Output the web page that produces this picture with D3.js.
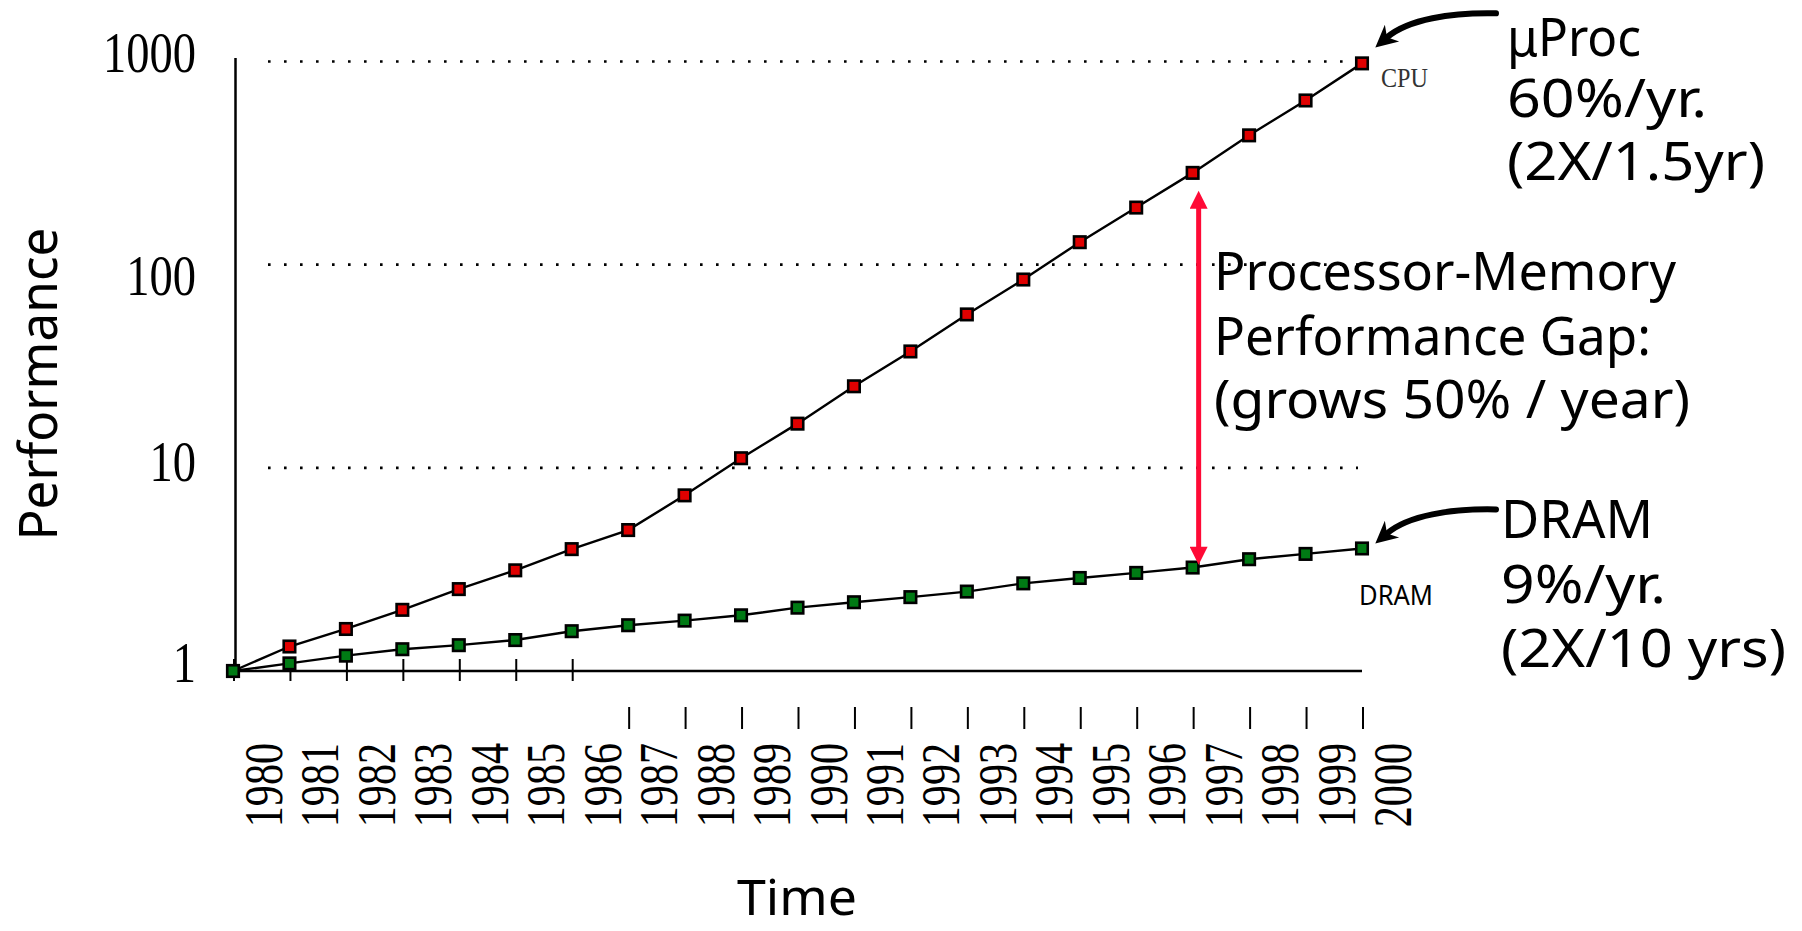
<!DOCTYPE html>
<html>
<head>
<meta charset="utf-8">
<script src="https://cdn.jsdelivr.net/npm/d3@7"></script>
<style>
  html, body { margin: 0; padding: 0; background: #fff; }
  svg { display: block; }
</style>
</head>
<body>
<svg id="chart" width="1802" height="931"></svg>
<script>
// ---- data ----
const years = [1980, 1981, 1982, 1983, 1984, 1985, 1986, 1987, 1988, 1989, 1990,
               1991, 1992, 1993, 1994, 1995, 1996, 1997, 1998, 1999, 2000];
const cpuPerf = [1, 1.32, 1.61, 2.00, 2.53, 3.13, 3.98, 4.94, 7.32, 11.15, 16.5,
                 25.2, 37.4, 56.9, 84.5, 129, 191, 283, 433, 643, 979];
const dramPerf = [1, 1.09, 1.19, 1.28, 1.34, 1.42, 1.57, 1.68, 1.77, 1.88, 2.05,
                  2.18, 2.31, 2.46, 2.70, 2.87, 3.04, 3.23, 3.55, 3.77, 4.01];
const yTicks = [1, 10, 100, 1000];
const gridTicks = [10, 100, 1000];
const yTickLabels = ["1", "10", "100", "1000"];
const cpuNote = ["\u03bcProc", "60%/yr.", "(2X/1.5yr)"];
const gapNote = ["Processor-Memory", "Performance Gap:", "(grows 50% / year)"];
const dramNote = ["DRAM", "9%/yr.", "(2X/10 yrs)"];

// ---- setup ----
const svg = d3.select("#chart");
const SERIF = "'Liberation Serif', 'Times New Roman', serif";
const COMIC = "'Comic Sans MS', 'Noto Sans', 'DejaVu Sans', sans-serif";

const x = d3.scaleLinear().domain([1980, 2000]).range([233, 1362]);
const y = d3.scaleLog().domain([1, 1000]).range([671, 61.5]);

function condense(sel, k) {
  sel.each(function () {
    const len = this.getComputedTextLength();
    d3.select(this).attr("textLength", len * k).attr("lengthAdjust", "spacingAndGlyphs");
  });
}
function fit(sel, w) {
  sel.attr("textLength", w).attr("lengthAdjust", "spacingAndGlyphs");
}

// ---- gridlines (dotted) ----
svg.append("g").selectAll("line").data(gridTicks).join("line")
  .attr("x1", 268).attr("x2", 1358)
  .attr("y1", d => y(d)).attr("y2", d => y(d))
  .attr("stroke", "#000").attr("stroke-width", 2.6)
  .attr("stroke-dasharray", "2.6 13.4");

// ---- axes ----
svg.append("line").attr("x1", 235.5).attr("x2", 235.5).attr("y1", 58).attr("y2", y(1))
  .attr("stroke", "#000").attr("stroke-width", 2.5);
svg.append("line").attr("x1", 228).attr("x2", x(2000)).attr("y1", y(1)).attr("y2", y(1))
  .attr("stroke", "#000").attr("stroke-width", 2.5);

// x ticks: first group crossing the axis, later ones dropped lower
svg.append("g").selectAll("line").data(years).join("line")
  .attr("x1", d => x(d) + 1).attr("x2", d => x(d) + 1)
  .attr("y1", d => d <= 1986 ? y(1) - 12 : y(1) + 36)
  .attr("y2", d => d <= 1986 ? y(1) + 10 : y(1) + 58)
  .attr("stroke", "#000").attr("stroke-width", 2);

// year labels (rotated)
const yl = svg.append("g").selectAll("text").data(years).join("text")
  .attr("transform", d => `translate(${x(d) + 49},743) rotate(-90)`)
  .attr("text-anchor", "end")
  .attr("font-family", SERIF).attr("font-size", 54).attr("fill", "#000")
  .text(d => String(d));
condense(yl, 0.78);

// y tick labels
const yOffsets = {1: 11, 10: 13, 100: 30, 1000: 10.5};
const ytl = svg.append("g").selectAll("text").data(yTicks).join("text")
  .attr("x", 196).attr("y", d => y(d) + yOffsets[d])
  .attr("text-anchor", "end")
  .attr("font-family", SERIF).attr("font-size", 56).attr("fill", "#000")
  .text((d, i) => yTickLabels[i]);
condense(ytl, 0.83);

// axis titles
svg.append("text")
  .attr("transform", "translate(57,384) rotate(-90)")
  .attr("text-anchor", "middle")
  .attr("font-family", COMIC).attr("font-size", 53).attr("fill", "#000")
  .text("Performance").call(fit, 313);

svg.append("text")
  .attr("x", 797).attr("y", 915).attr("text-anchor", "middle")
  .attr("font-family", COMIC).attr("font-size", 50).attr("fill", "#000")
  .text("Time").call(fit, 120);

// ---- series ----
const line = d3.line().x(d => x(d.year)).y(d => y(d.v));
const cpuData = years.map((yr, i) => ({year: yr, v: cpuPerf[i]}));
const dramData = years.map((yr, i) => ({year: yr, v: dramPerf[i]}));

function drawSeries(data, fill) {
  svg.append("path").datum(data)
    .attr("d", line).attr("fill", "none")
    .attr("stroke", "#000").attr("stroke-width", 2.4);
  const s = 11.5;
  svg.append("g").selectAll("rect").data(data).join("rect")
    .attr("x", d => x(d.year) - s / 2).attr("y", d => y(d.v) - s / 2)
    .attr("width", s).attr("height", s)
    .attr("fill", fill).attr("stroke", "#000").attr("stroke-width", 2.6);
}
drawSeries(cpuData, "#e00000");
drawSeries(dramData, "#007a14");

// series labels
svg.append("text").attr("x", 1381).attr("y", 87)
  .attr("font-family", SERIF).attr("font-size", 28).attr("fill", "#333")
  .text("CPU").call(fit, 47);
svg.append("text").attr("x", 1359).attr("y", 605)
  .attr("font-family", COMIC).attr("font-size", 27).attr("fill", "#000")
  .text("DRAM").call(fit, 74);

// ---- arrow heads ----
const defs = svg.append("defs");
defs.append("marker").attr("id", "redHead")
  .attr("viewBox", "0 0 10 10").attr("refX", 1).attr("refY", 5)
  .attr("markerUnits", "userSpaceOnUse")
  .attr("markerWidth", 19).attr("markerHeight", 18)
  .attr("orient", "auto-start-reverse")
  .append("path").attr("d", "M0,0 L10,5 L0,10 Z").attr("fill", "#ff0a36");
defs.append("marker").attr("id", "blackHead")
  .attr("viewBox", "0 0 10 10").attr("refX", 3).attr("refY", 5)
  .attr("markerUnits", "userSpaceOnUse")
  .attr("markerWidth", 24).attr("markerHeight", 22)
  .attr("orient", "auto")
  .append("path").attr("d", "M0,0 L10,5 L0,10 L3,5 Z").attr("fill", "#000");

// ---- red gap arrow at 1997 ----
const gx = x(1997) + 6;
svg.append("line")
  .attr("x1", gx).attr("x2", gx)
  .attr("y1", y(cpuPerf[17]) + 34).attr("y2", y(dramPerf[17]) - 19)
  .attr("stroke", "#ff0a36").attr("stroke-width", 5)
  .attr("marker-start", "url(#redHead)").attr("marker-end", "url(#redHead)");

// ---- curved black callout arrows ----
function callout(tx, ty) {
  const sx = tx + 118, sy = ty - 37;
  svg.append("path")
    .attr("d", `M${sx},${sy} C${sx - 45},${sy - 1} ${tx + 30},${sy + 6} ${tx + 9},${ty - 13}`)
    .attr("fill", "none").attr("stroke", "#000").attr("stroke-width", 6)
    .attr("stroke-linecap", "round")
    .attr("marker-end", "url(#blackHead)");
}
callout(x(2000) + 16, y(cpuPerf[20]) - 13);
callout(x(2000) + 16, y(dramPerf[20]) - 2);

// ---- annotation text blocks ----
function block(lines, x0, baselines, widths) {
  svg.append("g").selectAll("text").data(lines).join("text")
    .attr("x", x0).attr("y", (d, i) => baselines[i])
    .attr("font-family", COMIC).attr("font-size", 52).attr("fill", "#000")
    .text(d => d)
    .each(function (d, i) { fit(d3.select(this), widths[i]); });
}
block(cpuNote, 1507, [56, 117, 180], [134, 200, 258]);
block(gapNote, 1214, [290, 355, 418], [462, 437, 476]);
block(dramNote, 1501, [538, 603, 667], [152, 165, 285]);
</script>
</body>
</html>
